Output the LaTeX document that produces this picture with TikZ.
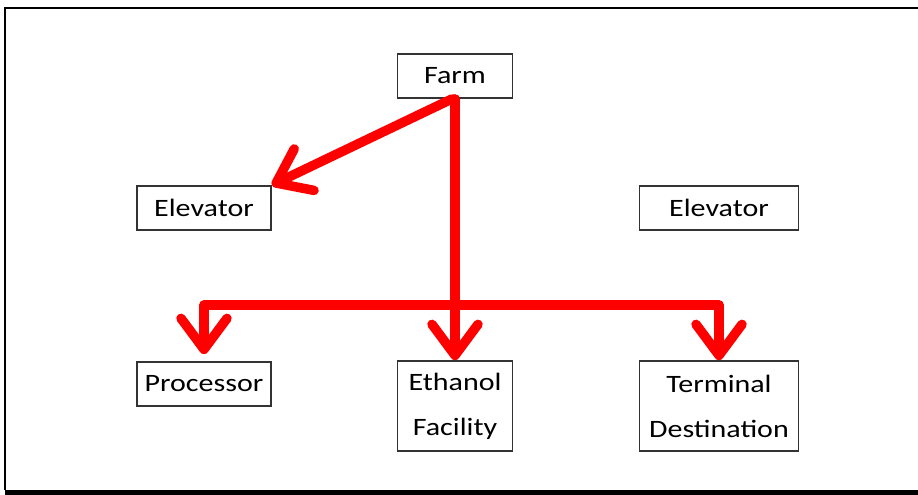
\documentclass[tikz,border=0pt]{standalone}
\usepackage{fontspec}
\setmainfont{Carlito}[FakeStretch=1.2]
\usetikzlibrary{positioning, arrows.meta}

\begin{document}
\begin{tikzpicture}[x=1pt, y=-1pt, on grid, node distance=132pt and 251pt,
    site/.style={draw=black!80, line width=1.8pt, inner sep=0pt, minimum height=44pt,
      font=\fontsize{25}{45}\selectfont, align=center},
    flow/.style={draw=red, line width=9.5pt, line cap=round, line join=round,
      -{Straight Barb[round, length=31pt, width=46pt]}}]
  \useasboundingbox (0,0) rectangle (918,495);

  % frame
  \draw[line width=2.5pt] (918,8) -- (5,8) -- (5,490);
  \fill (5,490) rectangle (918,495);

  \node[site, minimum width=115pt] (farm) at (455,76) {Farm};
  \node[site, minimum width=134pt] (elevA) [below left=of farm] {Elevator};
  \node[site, minimum width=159pt] (elevB) [below right=132pt and 264pt of farm] {Elevator};
  \node[site, minimum width=134pt] (proc) [below=176pt of elevA] {Processor};
  \node[site, minimum width=115pt, minimum height=90pt] (ethanol) [below=330pt of farm] {Ethanol\\Facility};
  \node[site, minimum width=159pt, minimum height=90pt] (term) [below=198pt of elevB] {Terminal\\Destination};

  \coordinate (split) at (farm.south |- 0,305);

  \draw[flow] (farm.south) -- (ethanol.north);
  \draw[flow] ([xshift=-3pt]farm.south) -- (elevA.north east);
  \draw[flow, shorten >=7pt] (split) -| (proc.north);
  \draw[flow] (split) -| (term.north);

\end{tikzpicture}
\end{document}
